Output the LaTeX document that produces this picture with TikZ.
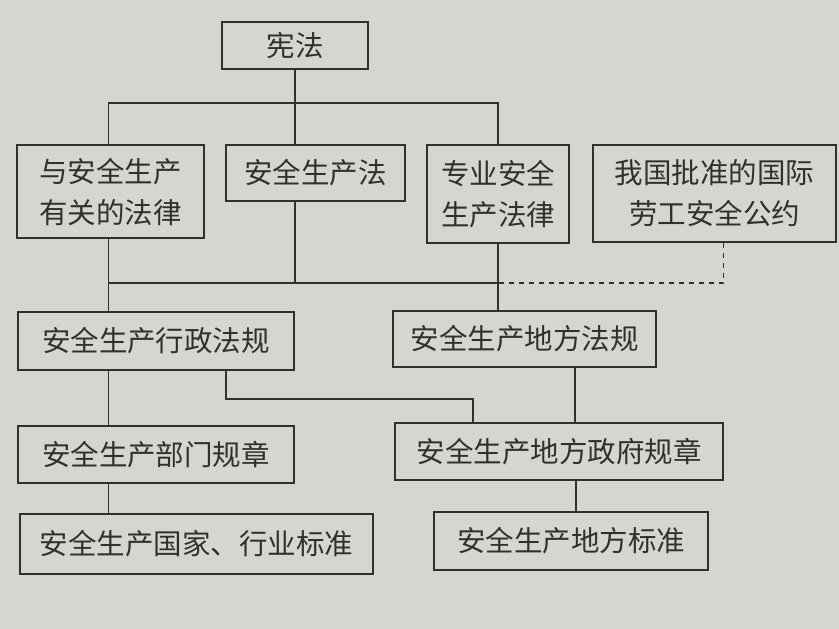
\documentclass[tikz,border=0pt]{standalone}
\usepackage{fontspec}
\newfontfamily\cjk{Noto Sans CJK SC}
\usepackage{tikz}
\usetikzlibrary{positioning,calc}
\definecolor{paper}{RGB}{214,214,209}
\definecolor{ink}{RGB}{48,48,46}

\begin{document}
\begin{tikzpicture}[x=1pt,y=-1pt,line width=1.6pt,draw=ink,
    lawbox/.style={draw=ink,inner sep=0pt,align=center,text=ink,
      font=\cjk\fontsize{28.5}{41}\selectfont}]
    \fill[paper] (0,0) rectangle (839,629);
    \useasboundingbox (0,0) rectangle (839,629);
    % top level
    \node[lawbox,minimum width=146,minimum height=47] (xianfa) at (295,45.5) {宪法};
    % laws
    \node[lawbox,minimum width=187,minimum height=93] (youguan) at (110.5,191.5) {与安全生产\\有关的法律};
    \node[lawbox,minimum width=179,minimum height=56] (anquanfa) at (315.5,173) {安全生产法};
    \node[lawbox,minimum width=142,minimum height=98] (zhuanye) at (498,194) {专业安全\\生产法律};
    \node[lawbox,minimum width=243,minimum height=97] (gongyue) at (714.5,193.5) {我国批准的国际\\劳工安全公约};
    % regulations
    \node[lawbox,minimum width=276,minimum height=58] (xingzheng) at (156,341) {安全生产行政法规};
    \node[lawbox,minimum width=263,minimum height=56] (difangfg) at (524.5,339) {安全生产地方法规};
    \node[lawbox,minimum width=276,minimum height=57] (bumen) at (156,454.5) {安全生产部门规章};
    \node[lawbox,minimum width=328,minimum height=57] (zhengfu) at (559,451.5) {安全生产地方政府规章};
    % standards
    \node[lawbox,minimum width=353,minimum height=60] (guojia) at (196.5,544) {安全生产国家、行业标准};
    \node[lawbox,minimum width=274,minimum height=58] (difangbz) at (571,541) {安全生产地方标准};
    \coordinate (topbus) at (295,103);
    \coordinate (midbus) at (295,283);
    \coordinate (leftx) at ([xshift=-2]youguan.south);
    \draw (xianfa.south) -- (xianfa.south |- anquanfa.north);
    \draw (leftx |- youguan.north) |- (topbus) -| (zhuanye.north);
    \draw (xianfa.south |- anquanfa.south) -- (midbus);
    \draw (leftx |- midbus) -- (zhuanye.south |- midbus);
    \draw[dash pattern=on 5pt off 5pt] ([xshift=9]gongyue.south) |- (zhuanye.south |- midbus);
    \draw (leftx |- youguan.south) -- (leftx |- xingzheng.north);
    \draw (zhuanye.south) -- (zhuanye.south |- difangfg.north);
    \draw (leftx |- xingzheng.south) -- (leftx |- bumen.north);
    \draw (leftx |- bumen.south) -- (leftx |- guojia.north);
    \draw ([xshift=70]xingzheng.south) -- ++(0,28) -| ([xshift=-86]zhengfu.north);
    \draw ([xshift=50.5]difangfg.south) -- ([xshift=50.5]difangfg.south |- zhengfu.north);
    \draw ([xshift=17]zhengfu.south) -- ([xshift=17]zhengfu.south |- difangbz.north);
  \end{tikzpicture}
\end{document}
